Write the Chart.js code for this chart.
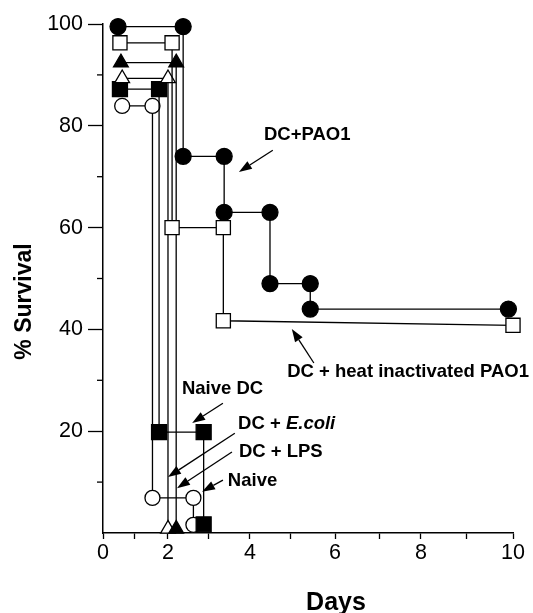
<!DOCTYPE html>
<html>
<head>
<meta charset="utf-8">
<script src="https://cdn.jsdelivr.net/npm/chart.js@4.4.1/dist/chart.umd.min.js"></script>
<style>
html, body { margin: 0; padding: 0; background: #fff; }
</style>
</head>
<body>
<canvas id="myChart" width="533" height="613"></canvas>
<script>
// survival curves (days, % survival)
var pao1Days = [0.47, 2.37, 2.37, 3.37, 3.37, 4.5, 4.5, 5.45, 5.45, 9.9];
var pao1Surv = [99.5, 99.5, 74, 74, 63, 63, 49, 49, 44, 44];
var heatDays = [0.53, 2.1, 2.1, 3.35, 3.35, 10.0];
var heatSurv = [96.3, 96.3, 60, 60, 41.7, 40.8];
var lpsDays = [0.56, 2.2, 2.2];
var lpsSurv = [92.4, 92.4, 0.8];
var ecoliDays = [0.6, 2.0, 2.0];
var ecoliSurv = [89.3, 89.3, 0.8];
var naiveDcDays = [0.53, 1.73, 1.73, 2.87, 2.87];
var naiveDcSurv = [87.2, 87.2, 19.8, 19.8, 1.7];
var naiveDays = [0.6, 1.53, 1.53, 2.62, 2.62];
var naiveSurv = [83.9, 83.9, 6.9, 6.9, 1.6];

var xTicks = [0, 2, 4, 6, 8, 10];
var yTicks = [20, 40, 60, 80, 100];

// the printed day axis is not even: 0-2 is squeezed. where each day sits (0..1 of the axis)
var dayWarp = [0, 0.078, 0.1585, 0.2585, 0.3585, 0.4561, 0.5659, 0.6732, 0.7756, 0.8878, 1];

var FONT = '"Liberation Sans", Arial, sans-serif';

function warp(v) {
    if (v <= 0) return v * dayWarp[1];
    if (v >= 10) return 1 + (v - 10) * (dayWarp[10] - dayWarp[9]);
    var i = Math.floor(v);
    return dayWarp[i] + (v - i) * (dayWarp[i + 1] - dayWarp[i]);
}
function unwarp(d) {
    for (var i = 0; i < 10; i++) {
        if (d <= dayWarp[i + 1]) return i + (d - dayWarp[i]) / (dayWarp[i + 1] - dayWarp[i]);
    }
    return 10 + (d - 1) / (dayWarp[10] - dayWarp[9]);
}

class DayScale extends Chart.LinearScale {
    getPixelForValue(value) {
        if (value === null || value === undefined) return NaN;
        return this.getPixelForDecimal(warp(value));
    }
    getValueForPixel(pixel) {
        return unwarp(this.getDecimalForPixel(pixel));
    }
}
DayScale.id = 'days';
DayScale.defaults = {};
Chart.register(DayScale);

function pts(xs, ys) {
    return xs.map(function (d, i) { return { x: d, y: ys[i] }; });
}

function series(label, xs, ys, style, r, fill) {
    return {
        label: label,
        data: pts(xs, ys),
        showLine: true,
        borderColor: '#000',
        borderWidth: 1.3,
        pointStyle: style,
        pointRadius: r,
        pointHoverRadius: r,
        pointBackgroundColor: fill,
        pointBorderColor: '#000',
        pointBorderWidth: 1.3,
        tension: 0,
        clip: false
    };
}

// text notes and arrows, placed in day / % units
var notes = [
    { x: 4.35, y: 78.6, parts: [['DC+PAO1', 'bold']] },
    { x: 4.93, y: 32.0, parts: [['DC + heat inactivated PAO1', 'bold']] },
    { x: 2.34, y: 28.7, parts: [['Naive DC', 'bold']] },
    { x: 3.71, y: 21.8, parts: [['DC + ', 'bold'], ['E.coli', 'italic bold']] },
    { x: 3.73, y: 16.3, parts: [['DC + LPS', 'bold']] },
    { x: 3.46, y: 10.6, parts: [['Naive', 'bold']] }
];
var arrows = [
    [4.57, 75.2, 3.73, 70.9],
    [5.53, 33.4, 5.04, 40.1],
    [3.34, 25.5, 2.59, 21.6],
    [3.63, 19.6, 2.0, 11.0],
    [3.56, 15.9, 2.22, 8.8],
    [3.34, 10.4, 2.83, 8.1]
];

var notePlugin = {
    id: 'notes',
    afterDraw: function (chart) {
        var ctx = chart.ctx, xs = chart.scales.x, ys = chart.scales.y, area = chart.chartArea;
        ctx.save();
        ctx.fillStyle = '#000';
        ctx.strokeStyle = '#000';
        ctx.lineWidth = 1.3;

        // short minor ticks on the % axis
        for (var v = 10; v < 100; v += 20) {
            var py = ys.getPixelForValue(v);
            ctx.beginPath();
            ctx.moveTo(area.left - 6, py);
            ctx.lineTo(area.left, py);
            ctx.stroke();
        }

        arrows.forEach(function (a) {
            var x1 = xs.getPixelForValue(a[0]), y1 = ys.getPixelForValue(a[1]);
            var x2 = xs.getPixelForValue(a[2]), y2 = ys.getPixelForValue(a[3]);
            var ang = Math.atan2(y2 - y1, x2 - x1), hl = 13, hw = 4.5;
            var bx = x2 - hl * Math.cos(ang), by = y2 - hl * Math.sin(ang);
            ctx.beginPath();
            ctx.moveTo(x1, y1);
            ctx.lineTo(bx, by);
            ctx.stroke();
            ctx.beginPath();
            ctx.moveTo(x2, y2);
            ctx.lineTo(bx + hw * Math.sin(ang), by - hw * Math.cos(ang));
            ctx.lineTo(bx - hw * Math.sin(ang), by + hw * Math.cos(ang));
            ctx.closePath();
            ctx.fill();
        });

        ctx.textAlign = 'left';
        ctx.textBaseline = 'alphabetic';
        notes.forEach(function (n) {
            var px = xs.getPixelForValue(n.x), py = ys.getPixelForValue(n.y) + 0.36 * 18.5;
            n.parts.forEach(function (p) {
                ctx.font = p[1] + ' 18.5px ' + FONT;
                ctx.fillText(p[0], px, py);
                px += ctx.measureText(p[0]).width;
            });
        });

        // axis titles
        ctx.textAlign = 'center';
        ctx.font = 'bold 25px ' + FONT;
        ctx.fillText('Days', (area.left + area.right) / 2 + 28, chart.height - 3);

        ctx.save();
        ctx.translate(area.left - 80, (area.top + area.bottom) / 2 + 23);
        ctx.rotate(-Math.PI / 2);
        ctx.font = 'bold 23px ' + FONT;
        ctx.fillText('% Survival', 0, 0.36 * 23);
        ctx.restore();

        ctx.restore();
    }
};

new Chart('myChart', {
    type: 'scatter',
    data: {
        datasets: [
            series('DC+PAO1', pao1Days, pao1Surv, 'circle', 8, '#000'),
            series('DC + heat inactivated PAO1', heatDays, heatSurv, 'rect', 10, '#fff'),
            series('DC + LPS', lpsDays, lpsSurv, 'triangle', 8.5, '#000'),
            series('DC + E.coli', ecoliDays, ecoliSurv, 'triangle', 8.5, '#fff'),
            series('Naive DC', naiveDcDays, naiveDcSurv, 'rect', 10.6, '#000'),
            series('Naive', naiveDays, naiveSurv, 'circle', 7.5, '#fff')
        ]
    },
    options: {
        responsive: false,
        animation: false,
        events: [],
        layout: { padding: { top: 24, right: 20, left: 0, bottom: 0 } },
        plugins: {
            legend: { display: false },
            tooltip: { enabled: false }
        },
        scales: {
            x: {
                type: 'days',
                min: 0,
                max: 10,
                afterFit: function (s) { s.height = 80; },
                ticks: {
                    stepSize: 1,
                    autoSkip: false,
                    maxRotation: 0,
                    padding: 1,
                    color: '#000',
                    font: { family: FONT, size: 21.5 },
                    callback: function (v) { return xTicks.indexOf(v) >= 0 ? String(v) : ''; }
                },
                grid: {
                    drawOnChartArea: false,
                    tickLength: 6,
                    tickWidth: 1.3,
                    tickColor: '#000'
                },
                border: { display: true, color: '#000', width: 1.5 }
            },
            y: {
                min: 0,
                max: 100,
                afterFit: function (s) { s.width = 103; },
                ticks: {
                    stepSize: 10,
                    autoSkip: false,
                    padding: 5,
                    color: '#000',
                    font: { family: FONT, size: 21.5 },
                    callback: function (v) { return yTicks.indexOf(v) >= 0 ? String(v) : ''; }
                },
                grid: {
                    drawOnChartArea: false,
                    tickLength: 15,
                    tickWidth: 1.3,
                    tickColor: function (c) {
                        return c.tick && yTicks.indexOf(c.tick.value) >= 0 ? '#000' : 'rgba(0,0,0,0)';
                    }
                },
                border: { display: true, color: '#000', width: 1.5 }
            }
        }
    },
    plugins: [notePlugin]
});
</script>
</body>
</html>
